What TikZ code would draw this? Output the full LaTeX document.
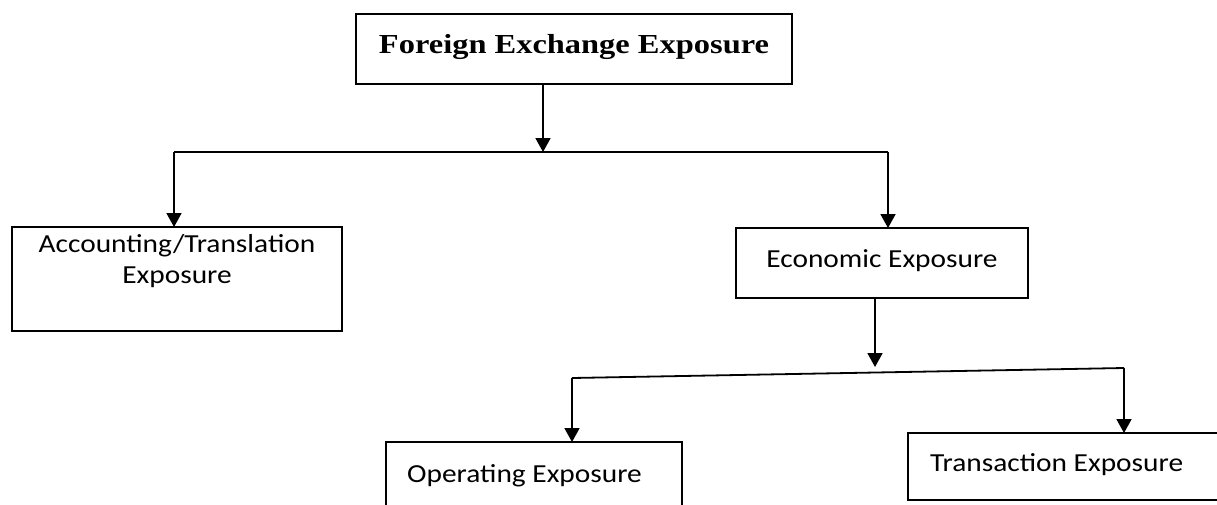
\documentclass[tikz,border=0pt]{standalone}
\usepackage{fontspec}
\setmainfont{Liberation Serif}[FakeStretch=1.18]
\newfontfamily\calfont{Carlito}[FakeStretch=1.13]
\usetikzlibrary{arrows.meta,calc}
\begin{document}
\begin{tikzpicture}[x=1pt,y=-1pt,
  box/.style={draw=black, line width=1.8pt, fill=none, inner sep=0pt, outer sep=0pt},
  conn/.style={draw=black, line width=1.8pt},
  arr/.style={conn, -{Triangle[length=14pt,width=15pt]}},
  titletext/.style={font=\fontsize{27.5}{32}\selectfont\bfseries, inner sep=0pt, anchor=base},
  bodytext/.style={font=\calfont\fontsize{26}{31}\selectfont, inner sep=0pt, anchor=base}]
\useasboundingbox (0,0) rectangle (1217,504);
\clip (0,0) rectangle (1217,504);
% boxes
\node[box, minimum width=436pt, minimum height=70pt] (top) at (574,49) {};
\node[box, minimum width=330pt, minimum height=104pt] (acc) at (177,279) {};
\node[box, minimum width=292pt, minimum height=70pt] (econ) at (882,263) {};
\node[box, minimum width=296pt, minimum height=80pt] (oper) at (534,482) {};
\node[box, minimum width=340pt, minimum height=67pt] (trans) at (1078,466.5) {};
% texts
\node[titletext] (toptext) at (574,53) {Foreign Exchange Exposure};
\node[bodytext] (acctext1) at (177,252) {Accounting/Translation};
\node[bodytext] (acctext2) at (177,283) {Exposure};
\node[bodytext] (econtext) at (882,267) {Economic Exposure};
\node[bodytext, anchor=base west] (opertext) at (407,482) {Operating Exposure};
\node[bodytext, anchor=base west] (transtext) at (930,471) {Transaction Exposure};
% junctions
\coordinate (j1) at (543,152);
\coordinate (bl) at (174,152);
\coordinate (br) at (888,152);
\coordinate (j2) at (875,367);
\coordinate (sl) at (572,378);
\coordinate (sr) at (1124,368);
% connectors
\draw[arr] (top.south -| j1) -- (j1);
\draw[conn] (bl) -- (br);
\draw[arr] (bl) -- (acc.north -| bl);
\draw[arr] (br) -- (econ.north -| br);
\draw[arr] (econ.south -| j2) -- (j2);
\draw[conn] (sl) -- (sr);
\draw[arr] (sl) -- (oper.north -| sl);
\draw[arr] (sr) -- (trans.north -| sr);
\end{tikzpicture}
\end{document}
